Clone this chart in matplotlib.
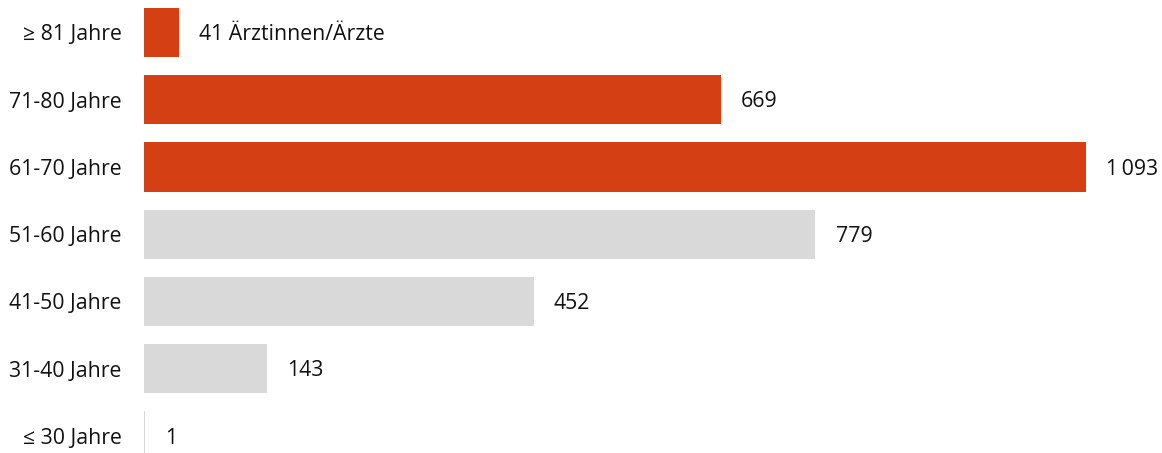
import matplotlib.pyplot as plt

plt.rcParams['font.family'] = ['Open Sans', 'DejaVu Sans']

categories = ['≥ 81 Jahre', '71-80 Jahre', '61-70 Jahre', '51-60 Jahre',
              '41-50 Jahre', '31-40 Jahre', '≤ 30 Jahre']
values = [41, 669, 1093, 779, 452, 143, 1]
labels = ['41 Ärztinnen/Ärzte', '669', '1\u2009093', '779', '452', '143', '1']
highlight = [True, True, True, False, False, False, False]

orange = '#d43f14'
grey = '#d9d9d9'

fig = plt.figure(figsize=(11.62, 4.53), dpi=100)
ax = fig.add_axes([144 / 1162, 0, 1 - 144 / 1162, 1])

pos = list(range(len(categories)))
colors = [orange if h else grey for h in highlight]
ax.barh(pos, values, height=0.73, color=colors)

for p, v, lab in zip(pos, values, labels):
    ax.annotate(lab, (v, p), xytext=(14.5, -1.5), textcoords='offset points',
                va='center', ha='left', fontsize=15.3, color='#111111')

ax.set_yticks(pos)
ax.set_yticklabels(categories, fontsize=15.3, color='#111111')
ax.tick_params(axis='y', length=0, pad=16)
ax.set_xticks([])
ax.set_xlim(0, (1162 - 144) / (942 / 1093))
ax.set_ylim(6.253, -0.483)
for s in ax.spines.values():
    s.set_visible(False)

fig.savefig('out.png', dpi=100)
